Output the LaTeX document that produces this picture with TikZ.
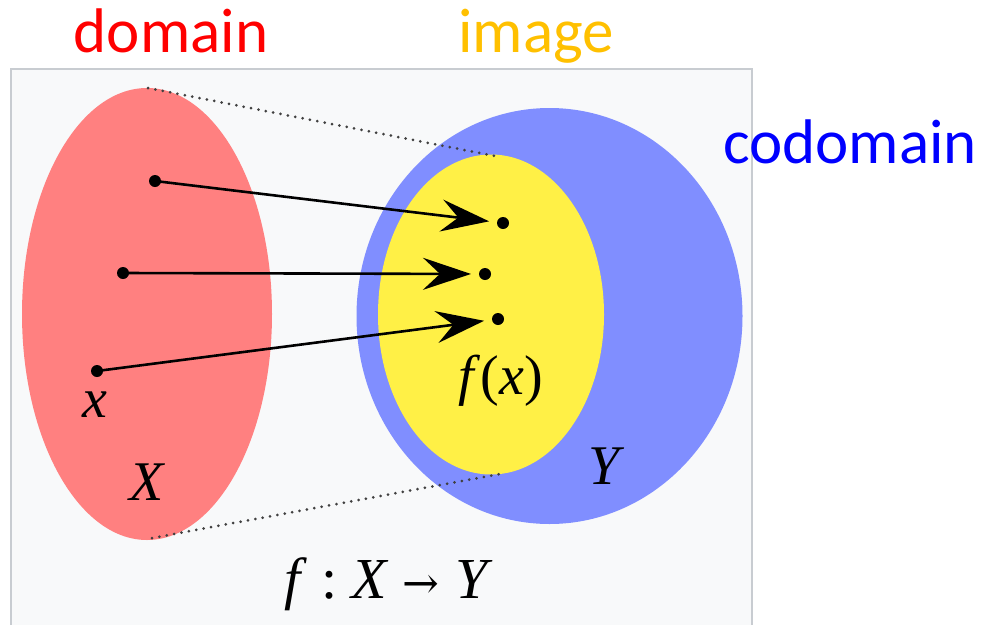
\documentclass[tikz,border=0pt]{standalone}
\usepackage{fontspec}
\setmainfont{Liberation Serif}
\newfontfamily\labelfont{Carlito}
\newfontfamily\arrowfont{DejaVu Serif}
\usetikzlibrary{arrows.meta}
\definecolor{boxfill}{HTML}{F8F9FA}
\definecolor{boxline}{HTML}{C8CCD1}
\definecolor{domred}{RGB}{255,128,128}
\definecolor{codblue}{RGB}{128,142,255}
\definecolor{imgyellow}{RGB}{255,240,70}
\definecolor{imgtext}{HTML}{FFC000}
\definecolor{dotgray}{HTML}{404040}
\tikzset{
  pt/.style={circle, fill=black, inner sep=0pt, minimum size=12pt},
  maparrow/.style={line width=2.6pt, -{Stealth[length=48pt,width=32pt,inset=17pt]}, shorten >=14pt},
  dotline/.style={draw=dotgray, line width=3pt, line cap=round, dash pattern=on 0pt off 7.5pt},
  bigword/.style={anchor=base, font=\labelfont\fontsize{63}{70}\selectfont, inner sep=0pt},
  mathlbl/.style={anchor=base, font=\itshape\fontsize{56}{62}\selectfont, inner sep=0pt}
}
\begin{document}
\begin{tikzpicture}[x=1pt,y=-1pt]
\useasboundingbox (0,0) rectangle (984,624);
% frame
\filldraw[fill=boxfill, draw=boxline, line width=2pt] (11,69) rectangle (752,640);
% sets
\fill[domred] (147,314) ellipse [x radius=125, y radius=226];
\fill[codblue] (549.5,316) ellipse [x radius=193, y radius=208];
\fill[imgyellow] (491,314.5) ellipse [x radius=113, y radius=160];
% dotted guide lines
\coordinate (dt) at (148,88);
\coordinate (it) at (500,157);
\coordinate (db) at (152,538);
\coordinate (ib) at (500,474);
\draw[dotline] (dt) -- (it);
\draw[dotline] (db) -- (ib);
% points
\node[pt] (a1) at (155,181) {};
\node[pt] (a2) at (123,273) {};
\node[pt] (a3) at (97,371) {};
\node[pt] (b1) at (503,223) {};
\node[pt] (b2) at (485,274) {};
\node[pt] (b3) at (498,319) {};
\draw[maparrow] (a1.center) -- (b1.center);
\draw[maparrow] (a2.center) -- (b2.center);
\draw[maparrow] (a3.center) -- (b3.center);
% labels
\node[mathlbl] (lx) at (95,417) {x};
\node[mathlbl] (lX) at (147,500) {X};
\node[mathlbl] (lfx) at (501,394) {f\/\upshape(\itshape x\upshape)};
\node[mathlbl] (lY) at (604,484) {Y};
\node[mathlbl, font=\itshape\fontsize{58}{64}\selectfont] (lmap) at (386,598) {f\/\hspace{14pt}\upshape:\hspace{14pt}\itshape X\hspace{16pt}{\upshape\arrowfont\fontsize{44}{50}\selectfont →}\hspace{16pt}Y};
\node[bigword, text=red] (wdom) at (171,52) {domain};
\node[bigword, text=imgtext] (wimg) at (536,52) {image};
\node[bigword, text=blue] (wcod) at (850,163) {codomain};
\end{tikzpicture}
\end{document}
